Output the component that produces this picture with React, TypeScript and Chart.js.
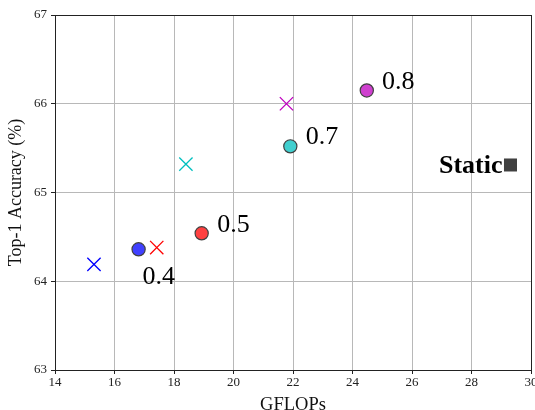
import React, { useEffect, useRef } from "react";
import { Chart, registerables } from "chart.js";

Chart.register(...registerables);

// Data
const circleX = [16.81, 18.93, 21.91, 24.48];
const circleY = [64.36, 64.54, 65.52, 66.15];
const circleColors = ["#4040ff", "#ff4040", "#40cfcf", "#cf40cf"];

const crossX = [15.31, 17.42, 18.4, 21.78];
const crossY = [64.19, 64.38, 65.32, 66.0];
const crossColors = ["#0000ff", "#ff0000", "#00bfbf", "#bf00bf"];

const staticX = [29.31];
const staticY = [65.31];

const labelText = ["0.4", "0.5", "0.7", "0.8"];
const labelX = [16.94, 19.45, 22.43, 24.99];
const labelY = [64.05, 64.63, 65.62, 66.24];

const xTicks = [14, 16, 18, 20, 22, 24, 26, 28, 30];
const yTicks = [63, 64, 65, 66, 67];

const SERIF = "'Liberation Serif', 'Times New Roman', serif";

export default function App() {
  const ref = useRef<HTMLCanvasElement | null>(null);

  useEffect(() => {
    document.body.style.margin = "0";
    document.body.style.overflow = "hidden";
    const canvas = ref.current;
    if (!canvas) return;

    const annot = {
      id: "annot",
      afterDatasetsDraw(chart: any) {
        const { ctx, scales, chartArea } = chart;
        const xs = scales.x;
        const ys = scales.y;
        ctx.save();
        // frame
        ctx.strokeStyle = "#222";
        ctx.lineWidth = 1;
        ctx.strokeRect(
          Math.round(chartArea.left) + 0.5,
          Math.round(chartArea.top) + 0.5,
          Math.round(chartArea.right - chartArea.left),
          Math.round(chartArea.bottom - chartArea.top)
        );
        ctx.fillStyle = "#000";
        ctx.font = `26px ${SERIF}`;
        ctx.textAlign = "left";
        ctx.textBaseline = "middle";
        for (let i = 0; i < labelText.length; i++) {
          ctx.fillText(labelText[i], xs.getPixelForValue(labelX[i]), ys.getPixelForValue(labelY[i]));
        }
        ctx.font = `bold 26px ${SERIF}`;
        ctx.textAlign = "right";
        ctx.fillText("Static", xs.getPixelForValue(staticX[0]) - 8, ys.getPixelForValue(staticY[0]) + 1);
        ctx.restore();
      },
    };

    const chart = new Chart(canvas, {
      type: "scatter",
      data: {
        datasets: [
          {
            data: crossX.map((x, i) => ({ x, y: crossY[i] })),
            pointStyle: "crossRot",
            pointRadius: 9.4,
            pointBorderWidth: 1.3,
            borderColor: crossColors,
            backgroundColor: crossColors,
          } as any,
          {
            data: circleX.map((x, i) => ({ x, y: circleY[i] })),
            pointStyle: "circle",
            pointRadius: 6.6,
            pointBorderWidth: 1.2,
            borderColor: "#404040",
            backgroundColor: circleColors,
          } as any,
          {
            data: staticX.map((x, i) => ({ x, y: staticY[i] })),
            pointStyle: "rect",
            pointRadius: 9.2,
            pointBorderWidth: 0,
            borderColor: "#404040",
            backgroundColor: "#404040",
          } as any,
        ],
      },
      options: {
        animation: false,
        responsive: false,
        devicePixelRatio: 1,
        layout: { padding: { top: 15, right: 29, left: 0, bottom: 0 } },
        plugins: {
          legend: { display: false },
          tooltip: { enabled: false },
        },
        scales: {
          x: {
            type: "linear",
            min: 14,
            max: 30,
            afterBuildTicks: (s: any) => {
              s.ticks = xTicks.map((v) => ({ value: v }));
            },
            afterFit: (s: any) => {
              s.height = 46;
            },
            grid: {
              color: "#b8b8b8",
              lineWidth: 1,
              tickLength: 4,
              tickColor: "#222",
            },
            border: { display: true, color: "#222" },
            ticks: {
              color: "#222",
              padding: 1,
              maxRotation: 0,
              font: { family: SERIF, size: 13 },
            },
            title: {
              display: true,
              text: "GFLOPs",
              color: "#111",
              padding: { top: 0, bottom: 0 },
              font: { family: SERIF, size: 18.5 },
            },
          },
          y: {
            type: "linear",
            min: 63,
            max: 67,
            afterBuildTicks: (s: any) => {
              s.ticks = yTicks.map((v) => ({ value: v }));
            },
            afterFit: (s: any) => {
              s.width = 55;
            },
            grid: {
              color: "#b8b8b8",
              lineWidth: 1,
              tickLength: 4,
              tickColor: "#222",
            },
            border: { display: true, color: "#222" },
            ticks: {
              color: "#222",
              padding: 4,
              font: { family: SERIF, size: 13 },
            },
            title: {
              display: true,
              text: "Top-1 Accuracy (%)",
              color: "#111",
              padding: { top: 5, bottom: 0 },
              font: { family: SERIF, size: 18 },
            },
          },
        },
      } as any,
      plugins: [annot],
    });
    return () => chart.destroy();
  }, []);

  return (
    <div style={{ position: "absolute", left: 0, top: 0, width: 535, height: 410, overflow: "hidden" }}>
      <canvas ref={ref} width={560} height={416} style={{ width: 560, height: 416, display: "block" }} />
    </div>
  );
}
